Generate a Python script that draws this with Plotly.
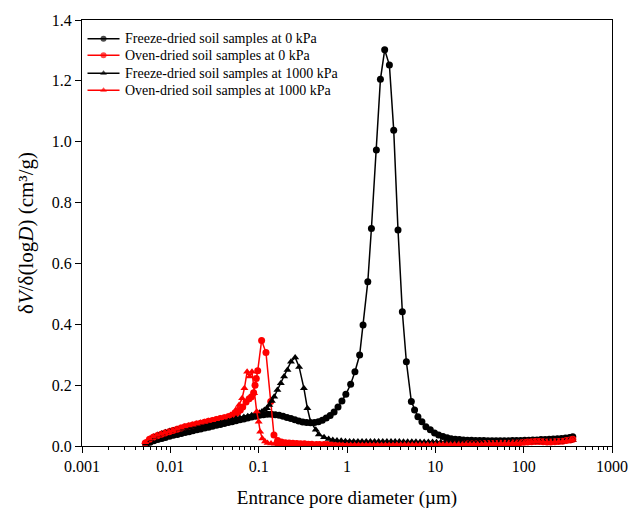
import plotly.graph_objects as go

# ---- data (pore diameter in µm, dV/dlogD in cm3/g) ----
freeze_0kPa = [
    (0.0053, 0.005), (0.0059, 0.012), (0.0065, 0.017), (0.0072, 0.021), (0.0080, 0.025),
    (0.0088, 0.028), (0.0098, 0.032), (0.0108, 0.035), (0.0120, 0.038), (0.0133, 0.041),
    (0.0147, 0.044), (0.0163, 0.047), (0.0180, 0.050), (0.0200, 0.053), (0.0221, 0.056),
    (0.0245, 0.059), (0.0271, 0.062), (0.0300, 0.065), (0.0333, 0.068), (0.0368, 0.071),
    (0.0408, 0.074), (0.0452, 0.077), (0.0500, 0.080), (0.0554, 0.083), (0.0614, 0.086),
    (0.0680, 0.089), (0.0753, 0.092), (0.0834, 0.095), (0.0924, 0.098), (0.1023, 0.101),
    (0.1133, 0.103), (0.1255, 0.104), (0.1390, 0.104), (0.1540, 0.103), (0.1706, 0.101),
    (0.1890, 0.098), (0.2093, 0.094), (0.2319, 0.090), (0.2568, 0.086), (0.2845, 0.082),
    (0.3151, 0.079), (0.3490, 0.077), (0.3866, 0.076), (0.4283, 0.077), (0.4744, 0.080),
    (0.5255, 0.085), (0.5821, 0.092), (0.6448, 0.100), (0.7142, 0.112), (0.7911, 0.128),
    (0.8763, 0.148), (0.9707, 0.170), (1.10, 0.203), (1.23, 0.244), (1.39, 0.299),
    (1.52, 0.398), (1.72, 0.540), (1.89, 0.715), (2.15, 0.973), (2.39, 1.205),
    (2.67, 1.302), (3.02, 1.252), (3.38, 1.038), (3.78, 0.710), (4.23, 0.441),
    (4.70, 0.277), (5.35, 0.146), (5.82, 0.118), (6.35, 0.096), (7.05, 0.080),
    (7.82, 0.063), (8.77, 0.053), (9.80, 0.043), (10.9, 0.036), (12.2, 0.031),
    (13.6, 0.027), (15.1, 0.024), (16.8, 0.022), (18.7, 0.021), (20.8, 0.020),
    (23.1, 0.019), (25.7, 0.019), (28.6, 0.018), (31.8, 0.018), (35.4, 0.018),
    (39.4, 0.017), (43.8, 0.017), (48.7, 0.017), (54.2, 0.017), (60.3, 0.017),
    (67.1, 0.017), (74.6, 0.018), (83.0, 0.018), (92.3, 0.018), (102.7, 0.019),
    (114.2, 0.019), (127.0, 0.020), (141.3, 0.020), (157.2, 0.021), (174.9, 0.021),
    (194.5, 0.022), (216.4, 0.023), (240.7, 0.024), (267.7, 0.025), (297.8, 0.026),
    (331.3, 0.028), (360.0, 0.030),
]

oven_0kPa = [
    (0.0052, 0.010), (0.0058, 0.022), (0.0064, 0.029), (0.0071, 0.034), (0.0079, 0.039),
    (0.0087, 0.043), (0.0097, 0.047), (0.0107, 0.051), (0.0119, 0.055), (0.0132, 0.059),
    (0.0146, 0.063), (0.0162, 0.066), (0.0179, 0.069), (0.0199, 0.072), (0.0220, 0.075),
    (0.0244, 0.078), (0.0270, 0.081), (0.0300, 0.084), (0.0332, 0.087), (0.0368, 0.090),
    (0.0408, 0.093), (0.0452, 0.096), (0.0501, 0.100), (0.0540, 0.104), (0.0580, 0.110),
    (0.0620, 0.118), (0.0660, 0.128), (0.0720, 0.145), (0.0780, 0.155), (0.0830, 0.162),
    (0.0877, 0.175), (0.0910, 0.200), (0.0940, 0.222), (0.0975, 0.247), (0.108, 0.347),
    (0.121, 0.307), (0.137, 0.146), (0.149, 0.036), (0.164, 0.018), (0.181, 0.013),
    (0.200, 0.011), (0.221, 0.010), (0.244, 0.009), (0.27, 0.008), (0.298, 0.007),
    (0.33, 0.007), (0.365, 0.006), (0.40, 0.006), (0.45, 0.005), (0.49, 0.005),
    (0.55, 0.005), (0.60, 0.005), (0.67, 0.005), (0.74, 0.004), (0.82, 0.004),
    (0.90, 0.004), (1.0, 0.004), (1.1, 0.004), (1.22, 0.004), (1.35, 0.004),
    (1.49, 0.004), (1.65, 0.004), (1.82, 0.004), (2.01, 0.004), (2.22, 0.004),
    (2.46, 0.004), (2.72, 0.004), (3.0, 0.004), (3.32, 0.004), (3.67, 0.005),
    (4.06, 0.005), (4.49, 0.005), (4.96, 0.005), (5.48, 0.005), (6.06, 0.005),
    (6.70, 0.005), (7.41, 0.005), (8.19, 0.005), (9.05, 0.005), (10.0, 0.005),
    (11.1, 0.005), (12.2, 0.006), (13.5, 0.006), (14.9, 0.006), (16.5, 0.006),
    (18.3, 0.006), (20.2, 0.006), (22.3, 0.007), (24.7, 0.007), (27.3, 0.007),
    (30.2, 0.007), (33.4, 0.007), (36.9, 0.008), (40.8, 0.008), (45.1, 0.008),
    (49.8, 0.008), (55.1, 0.009), (60.9, 0.009), (67.3, 0.009), (74.4, 0.010),
    (82.3, 0.010), (91.0, 0.011), (100.6, 0.012), (111, 0.013), (123, 0.014),
    (136, 0.015), (150, 0.015), (166, 0.014), (184, 0.013), (203, 0.013),
    (225, 0.014), (248, 0.015), (275, 0.016), (304, 0.018), (336, 0.020), (360, 0.022),
]

freeze_1000kPa = [
    (0.0053, 0.008), (0.0059, 0.022), (0.0065, 0.030), (0.0072, 0.036), (0.0080, 0.041),
    (0.0088, 0.045), (0.0098, 0.049), (0.0108, 0.052), (0.0120, 0.055), (0.0133, 0.057),
    (0.0147, 0.059), (0.0163, 0.061), (0.0180, 0.063), (0.0200, 0.065), (0.0221, 0.067),
    (0.0245, 0.069), (0.0271, 0.071), (0.0300, 0.073), (0.0333, 0.076), (0.0368, 0.078),
    (0.0408, 0.081), (0.0452, 0.084), (0.0500, 0.087), (0.0554, 0.090), (0.0614, 0.092),
    (0.0680, 0.095), (0.0753, 0.098), (0.0834, 0.101), (0.0924, 0.105), (0.102, 0.109),
    (0.109, 0.113), (0.116, 0.118), (0.124, 0.124), (0.132, 0.135), (0.141, 0.148),
    (0.150, 0.162), (0.163, 0.184), (0.178, 0.206), (0.194, 0.228), (0.212, 0.250),
    (0.232, 0.277), (0.259, 0.291), (0.287, 0.260), (0.325, 0.190), (0.356, 0.124),
    (0.387, 0.080), (0.443, 0.053), (0.48, 0.038), (0.55, 0.029), (0.62, 0.023),
    (0.69, 0.020), (0.77, 0.018), (0.86, 0.017), (0.96, 0.016), (1.07, 0.015),
    (1.19, 0.015), (1.33, 0.015), (1.48, 0.015), (1.65, 0.015), (1.84, 0.015),
    (2.05, 0.015), (2.28, 0.015), (2.54, 0.015), (2.83, 0.015), (3.15, 0.015),
    (3.51, 0.015), (3.91, 0.015), (4.36, 0.014), (4.86, 0.014), (5.41, 0.014),
    (6.03, 0.014), (6.72, 0.013), (7.48, 0.013), (8.34, 0.013), (9.29, 0.013),
    (10.3, 0.012), (11.5, 0.012), (12.8, 0.012), (14.3, 0.012), (15.9, 0.012),
    (17.7, 0.011), (19.8, 0.011), (22.0, 0.011), (24.5, 0.011), (27.3, 0.011),
    (30.5, 0.011), (33.9, 0.011), (37.8, 0.011), (42.1, 0.011), (46.9, 0.011),
    (52.3, 0.011), (58.2, 0.011), (64.9, 0.011), (72.3, 0.012), (80.5, 0.012),
    (89.7, 0.012), (99.9, 0.012), (111, 0.012), (124, 0.013), (138, 0.013),
    (154, 0.013), (172, 0.013), (191, 0.014), (213, 0.014), (237, 0.014),
    (264, 0.015), (295, 0.016), (328, 0.018), (360, 0.020),
]

oven_1000kPa = [
    (0.0052, 0.012), (0.0058, 0.024), (0.0064, 0.031), (0.0071, 0.036), (0.0079, 0.040),
    (0.0087, 0.044), (0.0097, 0.048), (0.0107, 0.052), (0.0119, 0.056), (0.0132, 0.060),
    (0.0146, 0.064), (0.0162, 0.067), (0.0179, 0.070), (0.0199, 0.073), (0.0220, 0.076),
    (0.0244, 0.079), (0.0270, 0.082), (0.0300, 0.085), (0.0332, 0.088), (0.0368, 0.091),
    (0.0408, 0.094), (0.0452, 0.098), (0.0480, 0.102), (0.0510, 0.107), (0.0550, 0.118),
    (0.0600, 0.135), (0.0650, 0.157), (0.0690, 0.190), (0.0740, 0.244), (0.0790, 0.228),
    (0.0840, 0.244), (0.0890, 0.173), (0.0950, 0.113), (0.1000, 0.080), (0.1040, 0.047),
    (0.1100, 0.025), (0.1180, 0.015), (0.1260, 0.010), (0.138, 0.008), (0.152, 0.007),
    (0.167, 0.006), (0.184, 0.006), (0.203, 0.005), (0.223, 0.005), (0.246, 0.005),
    (0.27, 0.005), (0.298, 0.004), (0.33, 0.004), (0.365, 0.004), (0.40, 0.004),
    (0.45, 0.004), (0.49, 0.004), (0.55, 0.004), (0.60, 0.003), (0.67, 0.003),
    (0.74, 0.003), (0.82, 0.003), (0.90, 0.003), (1.0, 0.003), (1.1, 0.003),
    (1.22, 0.003), (1.35, 0.003), (1.49, 0.003), (1.65, 0.003), (1.82, 0.003),
    (2.01, 0.003), (2.22, 0.003), (2.46, 0.003), (2.72, 0.003), (3.0, 0.003),
    (3.32, 0.003), (3.67, 0.004), (4.06, 0.004), (4.49, 0.004), (4.96, 0.004),
    (5.48, 0.004), (6.06, 0.004), (6.70, 0.004), (7.41, 0.004), (8.19, 0.004),
    (9.05, 0.004), (10.0, 0.004), (11.1, 0.005), (12.2, 0.005), (13.5, 0.005),
    (14.9, 0.005), (16.5, 0.005), (18.3, 0.005), (20.2, 0.005), (22.3, 0.006),
    (24.7, 0.006), (27.3, 0.006), (30.2, 0.006), (33.4, 0.006), (36.9, 0.007),
    (40.8, 0.007), (45.1, 0.007), (49.8, 0.007), (55.1, 0.008), (60.9, 0.008),
    (67.3, 0.008), (74.4, 0.009), (82.3, 0.009), (91.0, 0.010), (100.6, 0.011),
    (111, 0.012), (123, 0.013), (136, 0.014), (150, 0.014), (166, 0.013),
    (184, 0.012), (203, 0.012), (225, 0.013), (248, 0.014), (275, 0.015),
    (304, 0.016), (336, 0.018), (360, 0.020),
]

series_names = [
    "Freeze-dried soil samples at 0 kPa",
    "Oven-dried soil samples at 0 kPa",
    "Freeze-dried soil samples at 1000 kPa",
    "Oven-dried soil samples at 1000 kPa",
]
series_data = [freeze_0kPa, oven_0kPa, freeze_1000kPa, oven_1000kPa]
series_colors = ["#000000", "#ff0000", "#000000", "#ff0000"]
series_symbols = ["circle", "circle", "triangle-up", "triangle-up"]
series_sizes = [7, 7, 7, 7]

x_tick_vals = [0.001, 0.01, 0.1, 1, 10, 100, 1000]
x_tick_text = ["0.001", "0.01", "0.1", "1", "10", "100", "1000"]
y_tick_vals = [0.0, 0.2, 0.4, 0.6, 0.8, 1.0, 1.2, 1.4]
y_tick_text = ["0.0", "0.2", "0.4", "0.6", "0.8", "1.0", "1.2", "1.4"]

minor_vals = [m * d for d in [0.001, 0.01, 0.1, 1, 10, 100] for m in range(2, 10)]

FONT = "Liberation Serif, Times New Roman, serif"

# legend layout (fractions of the plotting area)
LEG_ROWS = [0.956, 0.917, 0.875, 0.835]
LEG_X0, LEG_XM, LEG_X1, LEG_XT = 0.0104, 0.0406, 0.0708, 0.0780

fig = go.Figure()
for name, data, col, sym, sz in zip(series_names, series_data, series_colors, series_symbols, series_sizes):
    fig.add_trace(go.Scatter(
        x=[p[0] for p in data], y=[p[1] for p in data],
        mode="lines+markers", name=name, showlegend=False,
        line=dict(color=col, width=1.5),
        marker=dict(symbol=sym, size=sz, color=col, line=dict(width=0)),
    ))

# manual legend drawn on an overlay axis spanning [0,1]
for name, col, sym, sz, ry in zip(series_names, series_colors, series_symbols, series_sizes, LEG_ROWS):
    fig.add_trace(go.Scatter(
        x=[LEG_X0, LEG_XM, LEG_X1], y=[ry, ry, ry],
        xaxis="x2", yaxis="y2", mode="lines+markers", showlegend=False, hoverinfo="skip",
        line=dict(color=col, width=1.5),
        marker=dict(symbol=sym, size=[0, sz - 1, 0], color=col, line=dict(width=0)),
    ))
    fig.add_annotation(
        x=LEG_XT, y=ry, xref="x2", yref="y2", text=name, showarrow=False,
        xanchor="left", yanchor="middle",
        font=dict(family=FONT, size=14, color="black"),
    )

fig.update_layout(
    width=632, height=509,
    margin=dict(l=82, r=20, t=20, b=63, autoexpand=False),
    paper_bgcolor="white", plot_bgcolor="white",
    font=dict(family=FONT, color="black", size=16),
    showlegend=False,
    xaxis2=dict(overlaying="x", range=[0, 1], visible=False, anchor="y2", automargin=False),
    yaxis2=dict(overlaying="y", range=[0, 1], visible=False, anchor="x2", automargin=False),
)

fig.layout.xaxis.update(
    type="log", range=[-3, 3], automargin=False,
    tickmode="array", tickvals=x_tick_vals, ticktext=x_tick_text,
    ticks="outside", ticklen=6, tickwidth=1.3, tickcolor="black",
    minor=dict(tickmode="array", tickvals=minor_vals, ticks="outside", ticklen=3, tickwidth=1.2, tickcolor="black"),
    showline=True, linecolor="black", linewidth=1.3, mirror=True,
    showgrid=False, zeroline=False,
    tickfont=dict(family=FONT, size=16, color="black"),
    title=dict(text="Entrance pore diameter (µm)", font=dict(family=FONT, size=19, color="black"), standoff=17),
)
fig.layout.yaxis.update(
    range=[0, 1.4], automargin=False,
    tickmode="array", tickvals=y_tick_vals, ticktext=y_tick_text,
    ticks="outside", ticklen=6, tickwidth=1.3, tickcolor="black",
    showline=True, linecolor="black", linewidth=1.3, mirror=True,
    showgrid=False, zeroline=False,
    tickfont=dict(family=FONT, size=16, color="black"),
    title=dict(text="δ<i>V</i>/δ(log<i>D</i>) (cm³/g)", font=dict(family=FONT, size=21, color="black"), standoff=12),
)

fig.write_html("out.html")
